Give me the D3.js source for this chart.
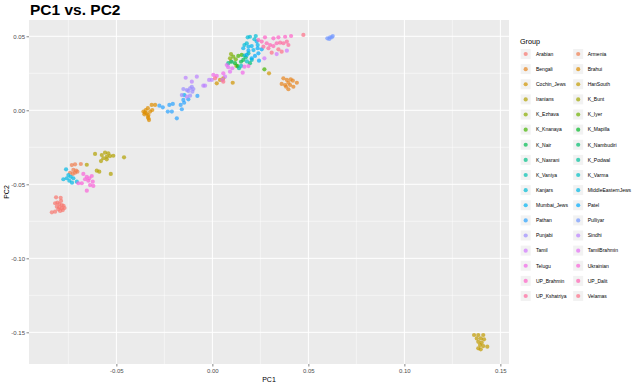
<!DOCTYPE html>
<html><head><meta charset="utf-8">
<script src="https://cdn.jsdelivr.net/npm/d3@7"></script>
<style>body{margin:0;background:#fff}svg{display:block;font-family:"Liberation Sans",Arial,sans-serif}</style>
</head><body><svg id="c" width="640" height="386"></svg>
<script>
// ---------- data ----------
const groupNames = ["Arabian","Armenia","Bengali","Brahui","Cochin_Jews","HanSouth","Iranians","K_Bunt","K_Ezhava","K_Iyer","K_Knanaya","K_Mapilla","K_Nair","K_Nambudiri","K_Nasrani","K_Podwal","K_Vaniya","K_Varma","Kanjars","MiddleEasternJews","Mumbai_Jews","Patel","Pathan","Pulliyar","Punjabi","Sindhi","Tamil","TamilBrahmin","Telugu","Ukrainian","UP_Brahmin","UP_Dalit","UP_Kshatriya","Velamas"];
const xTicks = [-0.05, 0.00, 0.05, 0.10, 0.15];
const yTicks = [0.05, 0.00, -0.05, -0.10, -0.15];
const xTickLabels = ["-0.05","0.00","0.05","0.10","0.15"];
const yTickLabels = ["0.05","0.00","-0.05","-0.10","-0.15"];

const arabian = [[-0.0814,-0.0588],[-0.0790,-0.0591],[-0.0819,-0.0628],[-0.0807,-0.0624],[-0.0797,-0.0633],[-0.0784,-0.0640],[-0.0810,-0.0651],[-0.0797,-0.0655],[-0.0784,-0.0662],[-0.0802,-0.0669],[-0.0779,-0.0674],[-0.0819,-0.0685],[-0.0793,-0.0680],[-0.0836,-0.0689],[-0.0775,-0.0645],[-0.0770,-0.0660],[-0.0788,-0.0612]];
const armenia = [[-0.0732,-0.0370],[-0.0715,-0.0365],[-0.0685,-0.0363],[-0.0724,-0.0403],[-0.0710,-0.0408],[-0.0741,-0.0422],[-0.0727,-0.0430],[-0.0715,-0.0422],[-0.0703,-0.0415]];
const bengali = [[0.0370,0.0216],[0.0388,0.0205],[0.0408,0.0209],[0.0419,0.0200],[0.0396,0.0186],[0.0379,0.0171],[0.0361,0.0178],[0.0405,0.0171],[0.0422,0.0159],[0.0440,0.0186],[0.0396,0.0142],[0.0384,0.0159]];
const brahui = [[-0.0359,-0.0009],[-0.0347,0.0002],[-0.0336,0.0014],[-0.0354,-0.0027],[-0.0342,-0.0020],[-0.0333,-0.0032],[-0.0324,-0.0009],[-0.0336,-0.0043],[-0.0330,-0.0066],[-0.0313,0.0002],[-0.0316,0.0036],[-0.0298,0.0036],[-0.0333,-0.0054],[-0.0351,-0.0016]];
const cochinJews = [[0.0057,0.0216],[0.0106,0.0186],[0.0295,0.0250],[0.0023,0.0182],[0.0040,0.0205]];
const hanSouth = [[0.1363,-0.1518],[0.1385,-0.1518],[0.1411,-0.1518],[0.1377,-0.1541],[0.1398,-0.1541],[0.1415,-0.1547],[0.1385,-0.1564],[0.1403,-0.1570],[0.1394,-0.1586],[0.1411,-0.1593],[0.1385,-0.1608],[0.1432,-0.1597],[0.1398,-0.1615]];
const iranians = [[-0.0611,-0.0295],[-0.0576,-0.0302],[-0.0559,-0.0286],[-0.0542,-0.0291],[-0.0550,-0.0314],[-0.0533,-0.0309],[-0.0568,-0.0324],[-0.0516,-0.0307],[-0.0580,-0.0343],[-0.0550,-0.0331],[-0.0460,-0.0318],[-0.0602,-0.0408],[-0.0589,-0.0415],[-0.0529,-0.0430],[-0.0654,-0.0368]];
const kBunt = [[0.0097,0.0330],[0.0125,0.0300]];
const kEzhava = [[0.0097,0.0380],[0.0092,0.0351]];
const kIyer = [[0.0109,0.0362],[0.0122,0.0345]];
const kKnanaya = [[0.0135,0.0367],[0.0153,0.0374],[0.0271,0.0277]];
const kMapilla = [[0.0118,0.0318],[0.0132,0.0299]];
const kNair = [[0.0149,0.0328],[0.0161,0.0340]];
const kNambudiri = [[0.0174,0.0358],[0.0196,0.0318]];
const kNasrani = [[0.0083,0.0318],[0.0101,0.0328]];
const kPodwal = [[0.0139,0.0284],[0.0188,0.0385]];
const kVaniya = [[0.0167,0.0370],[0.0205,0.0340]];
const kVarma = [[0.0180,0.0330],[0.0150,0.0300]];
const kanjars = [[0.0184,0.0493],[0.0196,0.0497],[0.0226,0.0502],[0.0219,0.0480],[0.0167,0.0441],[0.0179,0.0453]];
const middleEasternJews = [[-0.0762,-0.0399],[-0.0750,-0.0437],[-0.0738,-0.0449],[-0.0758,-0.0459],[-0.0776,-0.0466],[-0.0724,-0.0459],[-0.0731,-0.0489],[-0.0706,-0.0482],[-0.0745,-0.0476]];
const mumbaiJews = [[0.0188,0.0430],[0.0205,0.0434],[0.0231,0.0464],[0.0236,0.0441],[0.0214,0.0407],[0.0161,0.0419],[-0.0146,0.0103]];
const patel = [[0.0240,0.0385],[0.0222,0.0367],[0.0205,0.0351],[0.0179,0.0374],[0.0188,0.0403],[0.0243,0.0335],[0.0236,0.0419],[0.0257,0.0412]];
const pathan = [[-0.0276,0.0031],[-0.0258,0.0020],[-0.0224,0.0036],[-0.0206,0.0043],[-0.0232,-0.0009],[-0.0211,-0.0009],[-0.0185,-0.0054],[-0.0165,0.0036],[-0.0159,0.0007],[-0.0151,0.0070],[-0.0147,0.0051],[-0.0125,0.0074],[-0.0078,0.0097]];
const pulliyar = [[0.0599,0.0486],[0.0613,0.0493],[0.0627,0.0502],[0.0609,0.0482],[0.0622,0.0493]];
const punjabi = [[-0.0151,0.0144],[-0.0133,0.0137],[-0.0125,0.0130],[-0.0116,0.0149],[-0.0107,0.0159],[-0.0099,0.0144],[-0.0104,0.0126],[-0.0159,0.0103],[-0.0116,0.0099]];
const sindhi = [[-0.0139,0.0220],[-0.0081,0.0227],[-0.0107,0.0193],[-0.0047,0.0166],[-0.0038,0.0166],[-0.0133,0.0092],[-0.0003,0.0205],[-0.0017,0.0205]];
const tamil = [[0.0335,0.0380],[0.0388,0.0403],[0.0271,0.0351],[0.0066,0.0227],[0.0052,0.0205]];
const tamilBrahmin = [[0.0075,0.0306],[0.0083,0.0291],[0.0104,0.0284],[0.0092,0.0261]];
const telugu = [[0.0167,0.0295],[0.0188,0.0299],[0.0057,0.0250],[0.0158,0.0254],[0.0005,0.0239],[0.0023,0.0232]];
const ukrainian = [[-0.0672,-0.0430],[-0.0654,-0.0449],[-0.0628,-0.0444],[-0.0663,-0.0466],[-0.0646,-0.0476],[-0.0623,-0.0482],[-0.0637,-0.0505],[-0.0654,-0.0543],[-0.0698,-0.0493],[-0.0680,-0.0493],[-0.0620,-0.0511],[-0.0641,-0.0459]];
const upBrahmin = [[0.0274,0.0493],[0.0318,0.0486],[0.0344,0.0493],[0.0379,0.0497],[0.0410,0.0502]];
const upDalit = [[0.0257,0.0464],[0.0283,0.0453],[0.0301,0.0441],[0.0318,0.0434],[0.0335,0.0453],[0.0240,0.0475]];
const upKshatriya = [[0.0353,0.0457],[0.0370,0.0453],[0.0388,0.0464],[0.0396,0.0441],[0.0266,0.0430],[0.0292,0.0419]];
const velamas = [[0.0474,0.0509],[0.0344,0.0412],[0.0309,0.0389],[0.0361,0.0396],[0.0057,0.0193],[0.0014,0.0216]];

const seriesList = [arabian,armenia,bengali,brahui,cochinJews,hanSouth,iranians,kBunt,kEzhava,kIyer,kKnanaya,kMapilla,kNair,kNambudiri,kNasrani,kPodwal,kVaniya,kVarma,kanjars,middleEasternJews,mumbaiJews,patel,pathan,pulliyar,punjabi,sindhi,tamil,tamilBrahmin,telugu,ukrainian,upBrahmin,upDalit,upKshatriya,velamas];

// ---------- ggplot-like hue palette (polarLUV) ----------
function hclLuv(h, c, l) {
  const hr = h * Math.PI / 180;
  const U = c * Math.cos(hr), V = c * Math.sin(hr);
  const Y = l > 7.999592 ? 100 * Math.pow((l + 16) / 116, 3) : 100 * l / 903.3;
  const uN = 0.1978398, vN = 0.4683363;
  const u = U / (13 * l) + uN, v = V / (13 * l) + vN;
  const X = 9.0 * Y * u / (4 * v);
  const Z = -X / 3 - 5 * Y + 3 * Y / v;
  const g = t => t > 0.00304 ? 1.055 * Math.pow(t, 1 / 2.4) - 0.055 : 12.92 * t;
  const r = g(( 3.240479 * X - 1.537150 * Y - 0.498535 * Z) / 100);
  const gg = g((-0.969256 * X + 1.875992 * Y + 0.041556 * Z) / 100);
  const b = g(( 0.055648 * X - 0.204043 * Y + 1.057311 * Z) / 100);
  const cl = t => Math.max(0, Math.min(255, Math.round(t * 255)));
  return d3.rgb(cl(r), cl(gg), cl(b)).formatHex();
}
const n = groupNames.length;
const palette = groupNames.map((_, i) => hclLuv((15 + 360 * i / n) % 360, 100, 65));
const color = d3.scaleOrdinal().domain(groupNames).range(palette);

// ---------- layout ----------
const svg = d3.select("#c");
const P = {l: 29, r: 509, t: 20, b: 364};
const x = d3.scaleLinear().domain([-0.0955, 0.1545]).range([P.l, P.r]);
const y = d3.scaleLinear().domain([-0.1714, 0.0610]).range([P.b, P.t]);

svg.append("rect").attr("x", P.l).attr("y", P.t).attr("width", P.r - P.l).attr("height", P.b - P.t).attr("fill", "#EBEBEB");

const xMinor = [-0.075, -0.025, 0.025, 0.075, 0.125];
const yMinor = [0.025, -0.025, -0.075, -0.125];
const grid = svg.append("g");
grid.selectAll(".xm").data(xMinor).enter().append("line")
  .attr("x1", d => x(d)).attr("x2", d => x(d)).attr("y1", P.t).attr("y2", P.b)
  .attr("stroke", "#fff").attr("stroke-width", 0.5);
grid.selectAll(".ym").data(yMinor).enter().append("line")
  .attr("y1", d => y(d)).attr("y2", d => y(d)).attr("x1", P.l).attr("x2", P.r)
  .attr("stroke", "#fff").attr("stroke-width", 0.5);
grid.selectAll(".xM").data(xTicks).enter().append("line")
  .attr("x1", d => x(d)).attr("x2", d => x(d)).attr("y1", P.t).attr("y2", P.b)
  .attr("stroke", "#fff").attr("stroke-width", 1);
grid.selectAll(".yM").data(yTicks).enter().append("line")
  .attr("y1", d => y(d)).attr("y2", d => y(d)).attr("x1", P.l).attr("x2", P.r)
  .attr("stroke", "#fff").attr("stroke-width", 1);

// axes
const xAxis = d3.axisBottom(x).tickValues(xTicks).tickFormat((d, i) => xTickLabels[i]).tickSize(2.5).tickPadding(2.5);
const yAxis = d3.axisLeft(y).tickValues(yTicks).tickFormat((d, i) => yTickLabels[i]).tickSize(2.5).tickPadding(1.5);
const gx = svg.append("g").attr("transform", `translate(0,${P.b})`).call(xAxis);
const gy = svg.append("g").attr("transform", `translate(${P.l},0)`).call(yAxis);
[gx, gy].forEach(g => {
  g.select(".domain").remove();
  g.selectAll(".tick line").attr("stroke", "#333333").attr("stroke-width", 0.6);
  g.selectAll(".tick text").attr("fill", "#4D4D4D").attr("font-size", 6).attr("font-family", "Liberation Sans, Arial, sans-serif");
});

// points
const pts = svg.append("g");
seriesList.forEach((arr, gi) => {
  pts.selectAll(null).data(arr).enter().append("circle")
    .attr("cx", d => x(d[0])).attr("cy", d => y(d[1])).attr("r", 2.1)
    .attr("fill", color(groupNames[gi])).attr("fill-opacity", 0.7);
});

// titles
svg.append("text").attr("x", 30).attr("y", 14.5).attr("font-size", 15.5).attr("font-weight", "bold").attr("fill", "#000").text("PC1 vs. PC2");
svg.append("text").attr("x", (P.l + P.r) / 2).attr("y", 381.5).attr("text-anchor", "middle").attr("font-size", 7).attr("fill", "#000").text("PC1");
svg.append("text").attr("transform", `translate(9,${(P.t + P.b) / 2}) rotate(-90)`).attr("text-anchor", "middle").attr("font-size", 7).attr("fill", "#000").text("PC2");

// legend
const lg = svg.append("g");
lg.append("text").attr("x", 520).attr("y", 44).attr("font-size", 7.2).attr("fill", "#000").text("Group");
const colX = [525.7, 578.2], labX = [536, 587.7];
groupNames.forEach((name, i) => {
  const col = i % 2, row = Math.floor(i / 2);
  const cy = 54 + row * 15.125;
  lg.append("rect").attr("x", colX[col] - 5).attr("y", cy - 5).attr("width", 10).attr("height", 10).attr("fill", "#F2F2F2");
  lg.append("circle").attr("cx", colX[col]).attr("cy", cy).attr("r", 2.1).attr("fill", color(name)).attr("fill-opacity", 0.7);
  lg.append("text").attr("x", labX[col]).attr("y", cy + 1.8).attr("font-size", 5).attr("fill", "#000").text(name);
});
</script></body></html>
